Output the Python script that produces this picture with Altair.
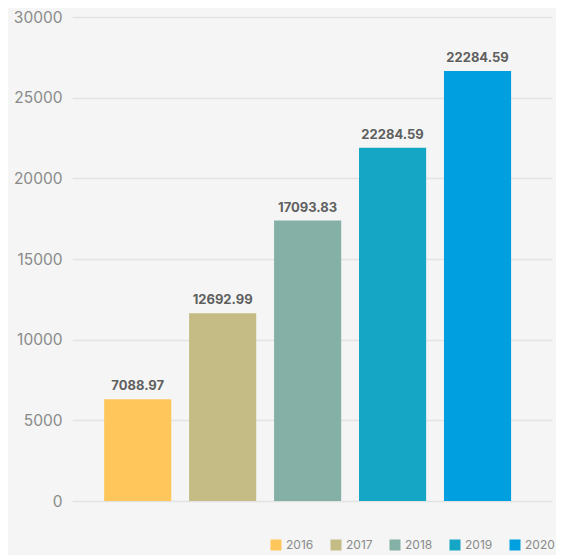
import altair as alt
import pandas as pd

years = ["2016", "2017", "2018", "2019", "2020"]
bar_values = [6300, 11630, 17380, 21900, 26660]
label_texts = ["7088.97", "12692.99", "17093.83", "22284.59", "22284.59"]
colors = ["#FEC65B", "#C4BC84", "#85B0A5", "#14A6C4", "#00A0E0"]
y_ticks = [0, 5000, 10000, 15000, 20000, 25000, 30000]

df = pd.DataFrame({"year": years, "value": bar_values, "label": label_texts})

FONT = "Inter"

x = alt.X("year:N", axis=None,
          scale=alt.Scale(paddingInner=0.21, paddingOuter=0.43, align=0.44))
y = alt.Y("value:Q", title=None,
          scale=alt.Scale(domain=[0, 30000], nice=False),
          axis=alt.Axis(values=y_ticks, format="d", domain=False, ticks=False,
                        labelPadding=10, labelColor="#8a8a8a", labelFontSize=15.5,
                        labelFont=FONT, gridColor="#e2e3e2", gridWidth=1.5))

bars = alt.Chart(df).mark_bar().encode(
    x=x, y=y,
    color=alt.Color("year:N", scale=alt.Scale(domain=years, range=colors),
                    legend=alt.Legend(title=None, orient="none", direction="horizontal",
                                      legendX=198, legendY=522,
                                      symbolType="square", symbolSize=121,
                                      symbolStrokeWidth=0, labelFont=FONT,
                                      labelFontSize=12, labelColor="#8a8a8a",
                                      columnPadding=16, labelOffset=4)),
)

labels = alt.Chart(df).mark_text(dy=-13, font=FONT, fontSize=13, fontWeight="bold",
                                 color="#5f5f5f").encode(
    x=x, y=y, text="label:N"
)

chart = (bars + labels).properties(
    width=480, height=484,
    autosize=alt.AutoSizeParams(type="none"),
    padding={"left": 64, "top": 9, "right": 4, "bottom": 54},
    background="#f4f5f4",
).configure_view(stroke=None)

chart.save("out.html", embed_options={"renderer": "svg", "actions": False})
